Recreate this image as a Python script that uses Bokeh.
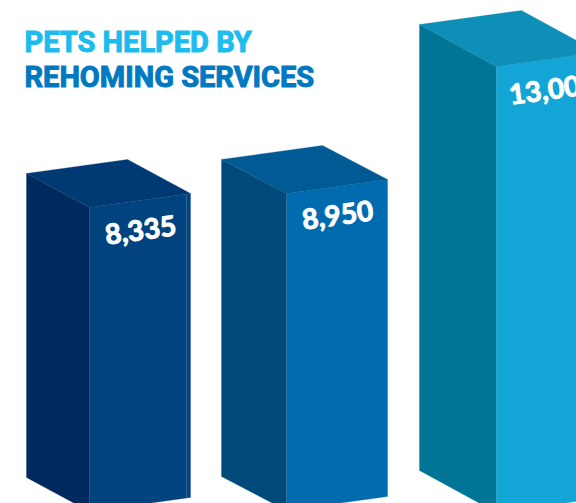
from bokeh.plotting import figure
from bokeh.models import Range1d
from bokeh.core.properties import value
from bokeh.embed import file_html
from bokeh.resources import INLINE
import math

# Data
title_lines = ["PETS HELPED BY", "REHOMING SERVICES"]
pets_helped = [8335, 8950, 13000]
labels = ["8,335", "8,950", "13,000"]

# Style / layout (pixels of the picture)
W, H = 576, 503
K = 0.03194            # px per pet on the shared vertical scale
Y_REF, V_REF = 173.0, 8335.0
left_x = [26, 221, 419]
depth_x = [63, 65, 77]
depth_y = [34, 34, 42]
width_x = [101, 101, 102]
width_y = [14, 14, 14]
lift = [0, 5.6, 0]     # drawn perspective correction of each bar
base_y = [477, 476, 470]
front_col = ["#00437f", "#006bae", "#13a5d6"]
left_col = ["#002a5e", "#004a7a", "#007596"]
top_col = ["#003a75", "#005a94", "#0d8fb8"]
label_dx = [51, 51, 56]
label_dy = [22, 21, 22]


def px(y):
    """vertical picture pixel -> value on the y scale"""
    return V_REF - (y - Y_REF) / K


def dv(d):
    """vertical pixel distance (upwards) -> value distance"""
    return d / K


p = figure(width=W, height=H, output_backend="svg", toolbar_location=None,
           x_range=Range1d(0, W), y_range=Range1d(px(H), px(0)),
           min_border=0, outline_line_color=None)
p.axis.visible = False
p.grid.visible = False
p.background_fill_color = "white"
p.border_fill_color = "white"

for i, v in enumerate(pets_helped):
    x0 = left_x[i]
    top_left = v - dv(lift[i])
    dx, dy, wx, wy = depth_x[i], dv(depth_y[i]), width_x[i], dv(width_y[i])
    base = px(base_y[i])
    # left face
    p.patch([x0, x0 + dx, x0 + dx, x0], [top_left, top_left - dy, base - dy, base],
            fill_color=left_col[i], line_color=left_col[i], line_width=0.3)
    # front face
    p.patch([x0 + dx, x0 + dx + wx, x0 + dx + wx, x0 + dx],
            [top_left - dy, top_left - dy + wy, base - dy + wy, base - dy],
            fill_color=front_col[i], line_color=front_col[i], line_width=0.3)
    # top face
    p.patch([x0, x0 + wx, x0 + wx + dx, x0 + dx],
            [top_left, top_left + wy, top_left + wy - dy, top_left - dy],
            fill_color=top_col[i], line_color=top_col[i], line_width=0.3)
    p.text([x0 + dx + label_dx[i]], [top_left - dy - dv(label_dy[i])], text=[labels[i]],
           text_color="white", text_outline_color="white", text_font=value("Lato"),
           text_font_style="bold", text_font_size="28px", text_align="center",
           text_baseline="middle", angle=math.atan2(width_y[i], wx))

# thin lighter stripe near the right edge of the first bar's front
x_s = left_x[0] + depth_x[0] + width_x[0] - 4
p.line([x_s, x_s],
       [pets_helped[0] - dv(depth_y[0]) + dv(width_y[0]) * 0.96, px(base_y[0]) - dv(depth_y[0]) + dv(width_y[0]) * 0.96],
       line_color="#2b659c", line_width=1)

title_cols = ["#1cbcee", "#0079c1"]
title_y = [px(41), px(76)]
for t, c, y in zip(title_lines, title_cols, title_y):
    p.text([24], [y], text=[t], text_color=c, text_outline_color=c, text_font=value("Roboto"),
           text_font_style="bold", text_font_size="29px", text_align="left",
           text_baseline="alphabetic")

open("out.html", "w").write(file_html(p, INLINE))
